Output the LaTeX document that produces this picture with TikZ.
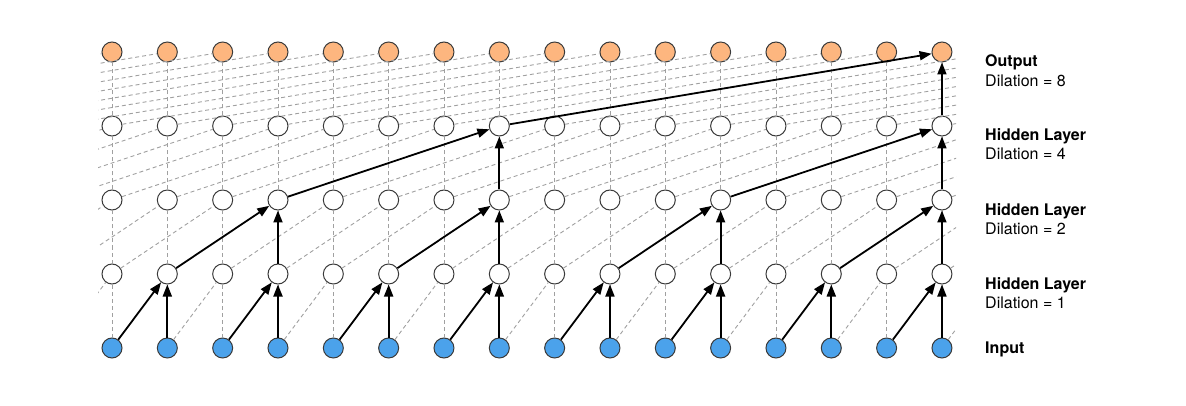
\documentclass[tikz,border=0pt]{standalone}
\usepackage{fontspec}
\setmainfont{TeX Gyre Heros}
\usetikzlibrary{arrows.meta}
\definecolor{outfill}{HTML}{FDB67F}
\definecolor{infill}{HTML}{4BA2EB}
\definecolor{dashgray}{HTML}{A0A0A0}
\definecolor{ringgray}{HTML}{3A3A3A}
\tikzset{
  unit/.style={circle, minimum size=20pt, inner sep=0pt, draw=ringgray, line width=1pt},
  ghost/.style={circle, minimum size=20pt, inner sep=0pt},
  outnode/.style={unit, fill=outfill},
  innode/.style={unit, fill=infill},
  hidnode/.style={unit, fill=white},
  dashlink/.style={draw=dashgray, line width=0.9pt, dash pattern=on 4pt off 3pt},
  flow/.style={-{Triangle[length=12pt,width=9pt]}, line width=1.8pt, black},
  lbl/.style={anchor=base west, inner sep=0pt, font=\fontsize{16}{20}\selectfont},
}
\begin{document}
\begin{tikzpicture}[x=1pt,y=-1pt]
\useasboundingbox (0,0) rectangle (1186,406);
% ghost (invisible) nodes outside the visible columns
\foreach \l/\y in {0/348,1/274,2/200,3/126,4/52}{
  \foreach \c in {-8,...,-1,16,17,...,23}{
    \node[ghost] (n-\l-\c) at ({112+55.33*\c},\y) {};
  }
}
% visible nodes
\foreach \c in {0,...,15}{
  \node[innode]  (n-0-\c) at ({112+55.33*\c},348) {};
  \node[hidnode] (n-1-\c) at ({112+55.33*\c},274) {};
  \node[hidnode] (n-2-\c) at ({112+55.33*\c},200) {};
  \node[hidnode] (n-3-\c) at ({112+55.33*\c},126) {};
  \node[outnode] (n-4-\c) at ({112+55.33*\c},52) {};
}
% dashed connections
\begin{scope}
  \clip (98,0) rectangle (956,406);
  \foreach \l/\d in {1/1,2/2,3/4,4/8}{
    \pgfmathtruncatemacro\lo{\l-1}
    \foreach \c in {0,...,15}{
      \draw[dashlink] (n-\lo-\c) -- (n-\l-\c);
    }
    \foreach \u in {0,...,23}{
      \pgfmathtruncatemacro\src{\u-\d}
      \draw[dashlink] (n-\lo-\src) -- (n-\l-\u);
    }
  }
\end{scope}
% solid arrows
\foreach \c in {1,3,...,15}{
  \pgfmathtruncatemacro\s{\c-1}
  \draw[flow] (n-0-\s) -- (n-1-\c);
  \draw[flow] (n-0-\c) -- (n-1-\c);
}
\foreach \c in {3,7,11,15}{
  \pgfmathtruncatemacro\s{\c-2}
  \draw[flow] (n-1-\s) -- (n-2-\c);
  \draw[flow] (n-1-\c) -- (n-2-\c);
}
\foreach \c in {7,15}{
  \pgfmathtruncatemacro\s{\c-4}
  \draw[flow] (n-2-\s) -- (n-3-\c);
  \draw[flow] (n-2-\c) -- (n-3-\c);
}
\draw[flow] (n-3-7) -- (n-4-15);
\draw[flow] (n-3-15) -- (n-4-15);
% labels
\node[lbl] (t4a) at (985,67) {\bfseries Output};
\node[lbl] (t4b) at (985,87) {Dilation = 8};
\node[lbl] (t3a) at (985,141) {\bfseries Hidden Layer};
\node[lbl] (t3b) at (985,160) {Dilation = 4};
\node[lbl] (t2a) at (985,215) {\bfseries Hidden Layer};
\node[lbl] (t2b) at (985,234) {Dilation = 2};
\node[lbl] (t1a) at (985,289) {\bfseries Hidden Layer};
\node[lbl] (t1b) at (985,308) {Dilation = 1};
\node[lbl] (t0a) at (985,353) {\bfseries Input};
\end{tikzpicture}
\end{document}
